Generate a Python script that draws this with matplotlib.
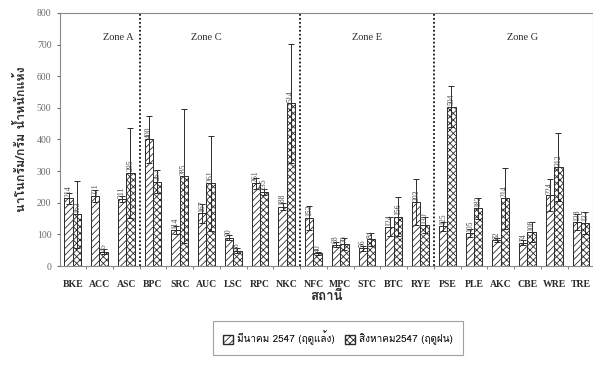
import numpy as np
import matplotlib
matplotlib.use("Agg")
import matplotlib.pyplot as plt
from matplotlib import font_manager
from matplotlib.ft2font import FT2Font
from matplotlib.patches import Patch

stations = ["BKE", "ACC", "ASC", "BPC", "SRC", "AUC", "LSC", "RPC", "NKC", "NFC",
            "MPC", "STC", "BTC", "RYE", "PSE", "PLE", "AKC", "CBE", "WRE", "TRE"]
dry = [214, 221, 211, 400, 114, 167, 90, 261, 188, 153,
       68, 56, 124, 203, 125, 105, 82, 74, 224, 138]
dry_err = [18, 20, 10, 75, 12, 30, 8, 18, 10, 38,
           8, 8, 30, 72, 15, 12, 5, 8, 50, 25]
wet = [163, 45, 295, 267, 285, 261, 48, 235, 514, 40,
       70, 84, 156, 130, 504, 182, 214, 108, 312, 137]
wet_err = [106, 8, 142, 35, 212, 150, 8, 10, 187, 5,
           20, 20, 62, 25, 64, 32, 97, 32, 108, 35]
zone_names = ["Zone A", "Zone C", "Zone E", "Zone G"]
zone_label_pos = [1.7, 5.0, 11.0, 16.8]
zone_bounds = [2.5, 8.5, 13.5]

legend_dry = "มีนาคม 2547 (ฤดูแล้ง)"
legend_wet = "สิงหาคม2547 (ฤดูฝน)"
y_title = "นาโนกรัม/กรัม น้ำหนักแห้ง"
x_title = "สถานี"

INK = "#2b2b2b"
GREY = "#6a6a6a"


def thai_family():
    # หา font ที่มีอักษรไทย (ก = U+0E01)
    for f in font_manager.fontManager.ttflist:
        try:
            if 0x0E01 in FT2Font(f.fname).get_charmap():
                return f.name
        except Exception:
            continue
    return "DejaVu Sans"


THAI = [thai_family(), "DejaVu Sans"]
SERIF = "Liberation Serif"
plt.rcParams["hatch.linewidth"] = 0.6

fig = plt.figure(figsize=(5.93, 3.71), dpi=100)
ax = fig.add_axes([0.101, 0.283, 0.899, 0.682])

x = np.arange(len(stations))
w = 0.31
ekw = dict(ecolor=INK, elinewidth=0.7, capsize=2.2, capthick=0.7)
ax.bar(x - w / 2, dry, w, yerr=dry_err, color="white", edgecolor=INK,
       linewidth=0.7, hatch="/////", error_kw=ekw, zorder=2)
ax.bar(x + w / 2, wet, w, yerr=wet_err, color="white", edgecolor=INK,
       linewidth=0.7, hatch="xxxxx", error_kw=ekw, zorder=2)

for xi, v in zip(x - w / 2, dry):
    ax.text(xi, v + 4, f"{v}", rotation=90, ha="center", va="bottom",
            fontsize=5.5, color="#444444", family=SERIF, zorder=3)
for xi, v in zip(x + w / 2, wet):
    ax.text(xi, v + 4, f"{v}", rotation=90, ha="center", va="bottom",
            fontsize=5.5, color="#444444", family=SERIF, zorder=3)

for b in zone_bounds:
    ax.axvline(b, color="#111111", linestyle=(0, (1, 1.2)), linewidth=1.3, zorder=1)
for name, pos in zip(zone_names, zone_label_pos):
    ax.text(pos, 722, name, ha="center", va="center", fontsize=7.5,
            family=SERIF, color=INK)

ax.set_xlim(-0.48, 19.45)
ax.set_ylim(0, 800)
ax.set_yticks(range(0, 801, 100))
ax.set_xticks(x)
ax.set_xticklabels(stations, family=SERIF, fontsize=7, color=INK, fontweight="bold")
ax.set_xticks(x[:-1] + 0.5, minor=True)
ax.tick_params(axis="x", which="major", length=0, pad=10)
ax.tick_params(axis="x", which="minor", length=2.5, color=GREY)
ax.tick_params(axis="y", length=2.5, color=GREY, labelsize=7, labelcolor=GREY)
for lab in ax.get_yticklabels():
    lab.set_family(SERIF)
for s in ax.spines.values():
    s.set_color("#8a8a8a")
    s.set_linewidth(0.8)

ax.set_ylabel(y_title, family=THAI, fontsize=9, fontweight="bold", color=INK, labelpad=6)
ax.set_xlabel(x_title, family=THAI, fontsize=9.5, fontweight="bold", color=INK, labelpad=1)

handles = [Patch(facecolor="white", edgecolor=INK, hatch="/////", label=legend_dry),
           Patch(facecolor="white", edgecolor=INK, hatch="xxxxx", label=legend_wet)]
leg = fig.legend(handles=handles, loc="center", bbox_to_anchor=(0.57, 0.089), ncol=2,
                 frameon=True, fancybox=False, edgecolor="#8a8a8a",
                 prop={"family": THAI, "size": 7.2}, handlelength=1.0, handleheight=1.0,
                 borderpad=1.0, borderaxespad=0, columnspacing=1.1, handletextpad=0.4)
leg.get_frame().set_linewidth(0.8)

fig.savefig("out.png", dpi=100, facecolor="white")
